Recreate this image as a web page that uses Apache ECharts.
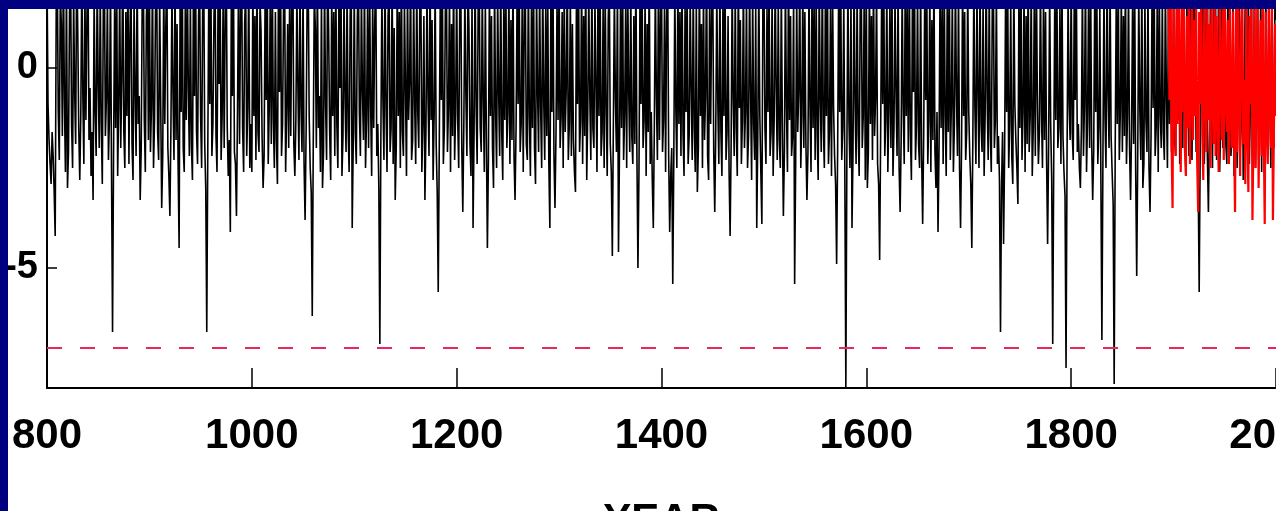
<!DOCTYPE html>
<html>
<head>
<meta charset="utf-8">
<script src="https://cdn.jsdelivr.net/npm/echarts@6/dist/echarts.min.js"></script>
<style>
html,body{margin:0;padding:0;background:#000080;width:1276px;height:511px;overflow:hidden;}
#chart{position:absolute;left:8px;top:9px;width:1268px;height:502px;background:#fff;}
</style>
</head>
<body>
<div id="chart"></div>
<script>
// Annual values, one array per century (first year given in the name)
const d0800 = [2.3,-0.9,-1.8,-2.4,-2.9,-1.6,-2.2,-3.1,-4.2,1.5,
2.6,-1.1,-2.3,1.9,1.1,-1.7,2.7,-0.8,-2.6,2.2,
-3.0,-2.1,1.4,2.5,-1.4,-2.5,1.8,-0.6,-1.9,2.9,
1.0,-1.5,-2.8,-1.2,2.4,-0.7,-2.4,2.1,-1.3,1.3,
2.7,-1.8,-0.5,-2.7,-1.6,-3.3,1.9,-1.1,-2.2,2.3,
-0.4,-2.0,2.0,-1.4,-2.9,1.6,2.5,-1.7,-0.8,1.8,
-2.3,-1.2,2.2,-2.6,-6.6,-2.1,1.5,-1.5,2.6,-2.7,
-1.0,2.1,-2.0,-0.3,2.8,-1.6,-2.5,1.4,-1.2,2.4,
-2.4,0.9,2.2,-1.9,-2.8,1.7,-0.6,-2.2,2.5,-1.4,
-0.7,-3.3,-2.0,1.9,2.7,-1.3,-2.6,1.2,2.3,-1.8];
const d0900 = [2.1,-2.1,-1.0,2.4,-2.5,-1.3,1.6,2.7,-1.6,-2.3,
1.8,-0.8,-3.5,-2.2,2.2,-1.4,1.0,2.6,-2.0,-2.7,
-3.7,-1.5,1.9,-0.6,-2.3,2.3,-1.8,1.1,-2.4,-4.5,
2.0,-1.1,2.8,-2.0,-2.6,1.5,-1.3,2.4,-0.5,-2.2,
1.7,-1.9,-2.8,2.1,-0.7,2.7,-1.6,-2.4,1.3,2.2,
-1.2,-2.5,1.6,2.5,-1.9,-3.0,-6.6,-2.0,2.0,-0.9,
2.4,-2.2,-1.4,1.2,2.8,-1.7,-2.6,1.7,-0.4,2.3,
-2.3,-1.2,1.8,-2.0,1.4,2.6,-1.5,-2.7,-1.8,-4.1,
1.9,-0.7,2.5,-2.1,-2.4,-3.7,-1.1,2.1,-1.9,1.5,
2.7,-1.5,-2.6,1.1,2.0,-2.2,-1.0,2.4,-2.5,-1.4];
const d1000 = [-2.6,2.2,-1.2,1.3,-2.3,2.5,-1.6,-2.1,1.7,0.9,
-1.7,-3.0,-2.2,2.0,-0.8,2.6,-2.4,-1.0,1.8,-1.9,
2.3,-1.3,-2.5,1.4,-1.8,-2.9,2.1,-0.6,2.7,-2.2,
-1.4,1.6,2.4,-2.6,-1.1,1.1,-2.0,2.2,-1.7,1.5,
2.8,-1.9,-2.7,-1.3,1.9,-0.5,-2.3,2.3,-1.0,-2.1,
2.1,-2.4,-3.8,-1.6,1.7,2.5,-1.2,-2.5,-3.1,-6.2,
-1.8,1.9,1.0,-2.0,2.4,-1.5,-0.7,-2.6,1.8,-3.0,
-2.1,2.2,-0.9,-2.3,2.6,0.9,-1.6,-2.8,2.0,-1.2,
1.4,-2.2,2.3,-1.4,-2.5,1.7,-0.5,2.5,-2.7,-1.7,
1.9,-0.8,-2.1,2.1,-1.5,-2.6,1.3,2.4,-4.0,-1.9];
const d1100 = [2.0,-1.6,-2.4,1.2,2.6,-1.1,-2.2,1.9,-0.6,-1.8,
2.3,-2.5,-1.3,1.5,-2.0,2.1,-0.9,-2.7,1.8,-1.5,
1.1,2.4,-2.2,-1.4,-3.0,-6.9,-1.7,1.9,-0.8,-2.3,
2.5,-1.0,-2.6,1.3,2.0,-2.1,-1.5,2.3,-2.4,1.0,
-3.3,-2.0,2.2,-1.2,1.4,-2.5,2.6,-1.6,-2.2,1.7,
-0.5,-2.7,2.1,-1.3,-0.4,2.4,-2.3,-1.8,1.9,-0.9,
-2.4,2.3,-1.1,-2.0,1.6,2.2,-2.6,-1.4,1.3,-3.3,
-1.6,2.0,-0.7,-2.2,2.5,-1.3,1.2,-2.8,-1.2,2.1,
-1.9,-3.1,-5.6,-2.0,1.8,-0.8,2.4,-2.4,-1.5,1.6,
2.2,-2.1,-1.0,1.9,-2.6,1.1,-1.7,2.5,-2.3,-1.1];
const d1200 = [2.1,-1.3,-2.5,1.5,2.3,-2.0,-3.6,-1.4,1.9,-0.7,
-2.2,2.2,1.0,-1.9,-2.7,1.8,-4.0,-1.6,2.4,-1.0,
-2.4,1.6,2.3,-1.5,-2.1,2.0,-0.8,-2.6,1.7,-1.7,
-4.5,-2.3,2.1,-1.2,1.3,-2.0,-3.0,2.2,-1.1,-2.5,
1.9,-0.6,-2.2,2.5,-1.6,-2.8,1.6,-1.3,2.3,-2.0,
-1.1,2.0,-2.4,1.2,-1.8,2.4,-2.2,-3.3,-1.5,1.8,
-0.9,2.5,-2.1,-1.4,1.7,-2.6,1.4,2.1,-1.9,-2.3,
2.2,-1.2,-2.7,1.5,-1.5,2.6,-2.0,-2.9,1.9,-0.6,
-2.1,2.1,-1.0,-2.5,2.3,-0.8,-2.3,1.8,-1.7,1.6,
-2.4,-4.0,2.0,-1.1,2.4,-2.2,-3.5,-1.6,1.7,-1.3];
const d1300 = [2.3,-2.0,-1.2,1.4,-2.5,2.1,-1.6,-0.5,2.5,-2.3,
-1.4,1.8,-2.2,1.1,-1.8,-2.6,-3.1,2.0,-0.9,2.4,
-2.1,-1.3,2.2,-2.4,1.3,-1.7,2.6,-2.8,-1.1,1.9,
-0.7,-2.3,2.3,-1.5,-2.0,1.7,-0.4,-2.6,2.1,-1.2,
2.5,-2.2,-1.6,1.6,-2.5,2.0,-1.0,-2.7,1.2,2.3,
-1.9,-2.6,-4.7,-1.4,1.9,-0.8,-2.1,2.2,-4.6,-2.0,
1.7,-1.5,2.4,-2.3,-1.2,1.5,-2.5,2.1,-0.6,-2.1,
2.0,-1.7,-2.4,1.3,-1.9,2.5,-2.2,-5.0,-2.6,1.8,
-0.9,2.3,-2.0,-1.3,1.9,-2.7,1.1,-1.6,2.6,-2.4,
-1.1,-2.8,-4.0,-1.5,2.1,-0.7,-2.3,2.2,-1.8,1.4];
const d1400 = [2.2,-2.1,-1.3,1.7,-2.6,1.2,2.4,-2.2,-4.1,-2.7,
-2.0,-5.4,-2.3,2.0,-1.0,-2.5,2.3,-1.4,1.4,-2.2,
2.5,-1.6,-2.7,1.6,-1.1,2.1,-2.4,-1.7,1.9,-0.6,
-2.3,2.2,-1.5,-2.6,1.7,-3.1,-2.0,2.4,-1.2,1.1,
-2.5,2.0,-1.8,-0.7,2.6,-2.2,-2.8,1.8,-1.4,1.5,
2.3,-2.1,-3.6,-1.5,1.9,-0.9,-2.4,2.2,-1.6,-2.7,
1.7,-1.2,2.5,-2.3,-1.6,1.3,-2.6,-4.2,-1.9,2.1,
-0.8,-2.2,2.0,-1.5,-2.7,2.4,-1.0,1.2,-2.4,-1.3,
2.3,-2.0,-1.1,1.8,-2.5,-1.7,2.1,-0.6,-2.8,1.9,
-1.4,-2.3,1.6,-4.0,-1.8,2.2,-1.2,-2.6,-3.9,1.7];
const d1500 = [2.4,-1.5,-2.4,1.5,-1.1,2.1,-2.2,-1.6,1.9,-2.7,
-1.3,2.3,-0.5,-2.3,1.7,-1.8,-2.5,2.0,-1.4,-3.7,
-2.1,2.2,-1.0,-2.6,2.5,-1.3,1.3,-2.2,-1.7,1.8,
-5.4,-2.4,1.9,-1.6,-0.6,2.4,-2.5,-1.2,2.1,-2.0,
1.4,-1.9,-3.3,-2.1,2.0,-1.0,-2.6,2.3,-1.5,1.6,
-2.3,1.9,-1.7,-2.8,2.2,-0.8,-2.1,2.6,-1.4,-2.5,
1.8,-1.2,2.3,-2.4,-1.6,1.5,-2.7,2.0,-1.0,-2.2,
-2.9,-4.9,-2.0,2.1,-1.1,2.4,-2.3,-1.5,1.7,-2.6,
-8.0,-2.2,2.2,-1.3,-2.5,1.8,-4.0,-2.1,2.3,-0.9,
-2.4,2.0,-1.6,-2.7,1.4,2.5,-2.0,-1.2,2.1,-2.8];
const d1600 = [1.7,-3.0,-2.1,2.2,-1.4,1.3,-2.3,2.4,-1.7,-0.8,
2.0,-2.4,-2.9,-4.8,-1.6,1.9,-0.9,2.5,-2.2,-1.3,
2.1,-2.6,-1.1,1.6,-2.0,2.3,-2.7,-1.5,1.8,-0.7,
-2.2,2.2,-2.5,-3.6,-1.8,2.0,-1.0,-2.4,2.4,-1.2,
1.5,-2.1,2.1,-1.6,-2.8,1.7,-0.6,2.6,-2.3,-1.4,
1.9,-1.9,-2.5,2.3,-2.2,-3.9,-1.7,1.8,-0.8,2.2,
-2.4,-1.3,2.0,-2.6,1.2,-1.8,2.4,-2.1,-3.0,-1.1,
-4.1,-2.0,2.1,-1.5,1.6,-2.4,2.3,-1.2,-2.7,1.7,
-1.6,2.5,-2.3,-1.0,1.9,-2.6,-1.4,2.2,-0.7,-2.2,
2.0,-2.5,-4.0,-1.9,2.3,-1.2,1.4,-2.3,-1.6,2.1];
const d1700 = [-1.1,-2.2,-2.9,-4.5,-1.8,2.2,-1.0,-2.4,1.9,-0.6,
-2.5,2.3,-1.4,-2.1,1.7,-2.7,-1.2,2.4,-0.8,-2.3,
2.1,-1.6,-2.6,1.6,2.5,-2.0,-1.3,1.9,-2.4,-1.7,
-2.8,-6.6,-3.0,-1.6,-4.4,-2.2,2.0,-1.1,2.3,-2.5,
-1.4,1.7,-2.2,-2.9,2.2,-0.9,-1.8,-2.5,-3.4,1.9,
-1.5,2.4,-2.3,-1.1,2.0,-2.6,1.3,-1.9,2.5,-2.1,
-1.2,2.1,-2.7,-1.5,1.7,-2.2,2.3,-0.7,-2.4,-1.6,
2.2,-1.1,-2.5,1.9,-1.8,1.4,-2.3,-4.4,-1.9,2.0,
-1.4,-2.8,-6.9,-2.2,1.8,-1.3,2.4,-2.0,-1.5,1.5,
-2.4,2.3,-1.7,-2.6,-3.2,-7.5,-2.1,1.9,-0.9,-1.8];
const d1800 = [2.2,-1.6,-2.3,1.7,-0.8,2.5,-2.1,-1.4,-2.5,-3.0,
-1.5,2.1,-2.2,-0.9,2.4,-2.6,-1.3,1.8,-2.0,2.2,
-1.8,-3.3,-2.1,1.9,-1.1,2.3,-2.4,-1.5,1.5,-2.7,
-6.8,-2.3,2.0,-1.2,-2.5,2.4,-0.6,-2.0,2.1,-1.7,
-2.6,-3.4,-7.9,-2.0,1.7,-1.4,2.3,-2.3,-1.1,1.9,
-2.1,1.3,-1.7,2.5,-2.4,-1.2,2.0,-2.0,-3.3,-1.5,
1.8,-1.9,2.2,-2.6,-5.2,-2.2,1.9,-1.0,-2.3,2.3,
-3.0,-2.4,1.7,-1.3,-2.1,2.1,-2.5,-3.6,-1.7,2.0,
-1.0,2.4,-2.2,-1.5,1.6,-2.6,2.2,-1.2,-2.0,1.8,
-1.6,-2.3,2.1,-0.8,-2.5,1.9,-1.4,2.5,-2.1,-1.2];
const d1900 = [2.0,-1.8,-2.2,1.7,-1.3,2.3,-2.4,-1.1,1.4,-2.0,
2.2,-1.5,-2.6,1.8,-0.9,-2.2,2.4,-1.6,-2.3,1.9,
-0.7,2.1,-2.1,-1.4,-2.8,-5.6,-2.0,2.0,-1.2,2.3,
-2.4,-1.0,2.2,-2.2,-3.6,-1.5,1.9,-0.8,-2.5,2.1,
-1.7,1.7,-2.3,-1.2,2.3,-2.6,-1.4,1.8,-2.0,1.5,
2.2,-1.9,-2.4,1.9,-1.1,2.4,-2.2,-1.6,1.6,-2.7,
-1.3,2.1,-2.5,-1.0,2.3,-2.1,-1.5,1.9,-2.8,-1.2,
2.0,-2.0,-1.4,2.2,-2.4,-0.9,1.8,-2.2,-1.6,2.4,
-2.5,-1.1,2.1,-2.3,-1.5,1.7,-2.6,1.9,-1.3,-2.1,
2.3,-1.4,-2.2,1.8,-0.9,-2.5,2.0,-1.7,-2.0,1.9,
1.2];
// Recent (red) series, 1895-2000
const red1895 = [1.7,-0.8,2.2,-1.9,-3.5,
1.9,-0.5,-2.2,1.5,-1.4,2.3,-0.3,-2.6,1.6,-1.1,
2.0,-2.0,-2.7,1.3,-1.5,1.7,-2.4,-0.6,2.1,-1.8,
1.2,-1.2,1.8,-2.3,-3.6,1.4,-0.9,2.2,-1.6,-2.8,
1.6,-0.4,-2.1,1.9,-1.3,1.1,-2.5,1.7,-0.7,-1.9,
2.0,-2.2,1.3,-1.0,-2.6,1.8,-0.5,-1.8,1.5,-2.3,
2.1,-0.8,-1.6,1.2,-2.4,1.7,-1.2,-2.0,1.4,-1.5,
-3.6,1.6,-2.1,1.9,-0.6,-2.7,1.1,1.8,-1.9,-0.3,
-2.9,1.7,-1.4,-3.1,1.3,-0.9,2.0,-3.8,-1.7,1.5,
-2.5,-0.4,1.9,-3.0,-1.1,1.2,-2.2,1.7,-1.6,-3.9,
1.4,-1.3,-2.4,1.8,-0.7,-2.0,1.6,-3.8,-1.5,1.1,
-1.2];
const THRESHOLD = -7;
const xTicks = [800, 1000, 1200, 1400, 1600, 1800, 2000];
const yTickLabels = [-5, 0];

const blackVals = [].concat(d0800, d0900, d1000, d1100, d1200, d1300, d1400, d1500, d1600, d1700, d1800, d1900);
const blackData = blackVals.map((v, i) => [800 + i, v]);
const redData = red1895.map((v, i) => [1895 + i, v]);

const FONT = "'Liberation Sans', Arial, sans-serif";

const chart = echarts.init(document.getElementById('chart'), null, {renderer: 'canvas'});
chart.setOption({
  animation: false,
  backgroundColor: '#ffffff',
  grid: {left: 39, right: 0, top: -1, bottom: 123, containLabel: false, outerBoundsMode: 'none'},
  xAxis: {
    type: 'value', min: xTicks[0], max: xTicks[xTicks.length - 1], interval: 200,
    name: 'YEAR', nameLocation: 'middle', nameGap: 112,
    nameTextStyle: {fontFamily: FONT, fontWeight: 'bold', fontSize: 42, color: '#000', verticalAlign: 'top'},
    axisLine: {show: true, onZero: false, lineStyle: {color: '#000', width: 2}},
    axisTick: {show: true, inside: true, length: 20, lineStyle: {color: '#000', width: 1.5}},
    axisLabel: {show: true, margin: 27, fontFamily: FONT, fontWeight: 'bold', fontSize: 42, color: '#000',
      formatter: v => String(v)},
    splitLine: {show: false}
  },
  yAxis: {
    type: 'value', min: -8, max: 1.5,
    axisLine: {show: true, onZero: false, lineStyle: {color: '#000', width: 2}},
    axisTick: {show: true, inside: true, length: 10, customValues: yTickLabels, lineStyle: {color: '#000', width: 1.5}},
    axisLabel: {show: true, margin: 9, customValues: yTickLabels, fontFamily: FONT, fontWeight: 'bold', fontSize: 38, color: '#000'},
    splitLine: {show: false}
  },
  series: [
    {
      type: 'line', data: blackData, symbol: 'none', clip: true,
      lineStyle: {color: '#000', width: 1.6}, z: 2,
      markLine: {
        silent: true, symbol: 'none', label: {show: false},
        lineStyle: {color: '#e8285a', width: 2, type: [15, 18]},
        data: [{yAxis: THRESHOLD}]
      }
    },
    {
      type: 'line', data: redData, symbol: 'none', clip: true,
      lineStyle: {color: '#ff0000', width: 2.2}, z: 3
    }
  ]
});
</script>
</body>
</html>
